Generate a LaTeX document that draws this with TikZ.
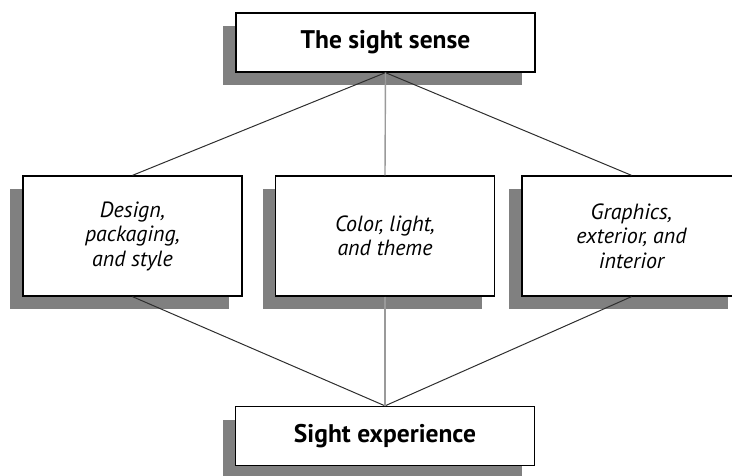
\documentclass[tikz,border=0pt]{standalone}
\usepackage{fontspec}
\setmainfont{PT Sans}
\usetikzlibrary{shadows}
\definecolor{shadowgray}{HTML}{808080}
\definecolor{linedark}{HTML}{2E2E2E}
\definecolor{linelight}{HTML}{9A9A9A}
\tikzset{
  box/.style={draw=black, line width=1.3pt, fill=white, inner sep=0pt,
    align=center,
    drop shadow={shadow xshift=-13pt, shadow yshift=-13pt, opacity=1, fill=shadowgray}},
  titlebox/.style={box, minimum width=299pt, minimum height=59pt,
    font=\fontsize{25.5}{30}\selectfont\bfseries},
  aspectbox/.style={box, minimum width=219pt, minimum height=120pt,
    font=\fontsize{22}{24.5}\selectfont\itshape},
  link/.style={draw=linedark, line width=1pt},
  spine/.style={draw=linelight, line width=1.4pt}
}
\begin{document}
\begin{tikzpicture}[x=1pt, y=-1pt]
  \useasboundingbox (0,0) rectangle (732,476);
  \begin{scope}
    \clip (0,0) rectangle (732,476);
    % top and bottom summary boxes
    \node[titlebox] (sense) at (385.5,42.5) {The sight sense};
    \node[titlebox] (exp) at (385,436) {Sight experience};
    % three aspects of sight
    \node[aspectbox] (design) at (132.5,236) {Design,\\packaging,\\and style};
    \node[aspectbox] (color) at (385,236) {Color, light,\\and theme};
    \node[aspectbox] (graph) at (631.5,236) {Graphics,\\exterior, and\\interior};
    % connectors
    \draw[link] (sense.south) -- (design.north);
    \draw[link] (sense.south) -- (graph.north);
    \draw[spine] (sense.south) -- (color.north);
    \draw[link] (design.south) -- (exp.north);
    \draw[link] (graph.south) -- (exp.north);
    \draw[spine] (color.south) -- (exp.north);
  \end{scope}
\end{tikzpicture}
\end{document}
